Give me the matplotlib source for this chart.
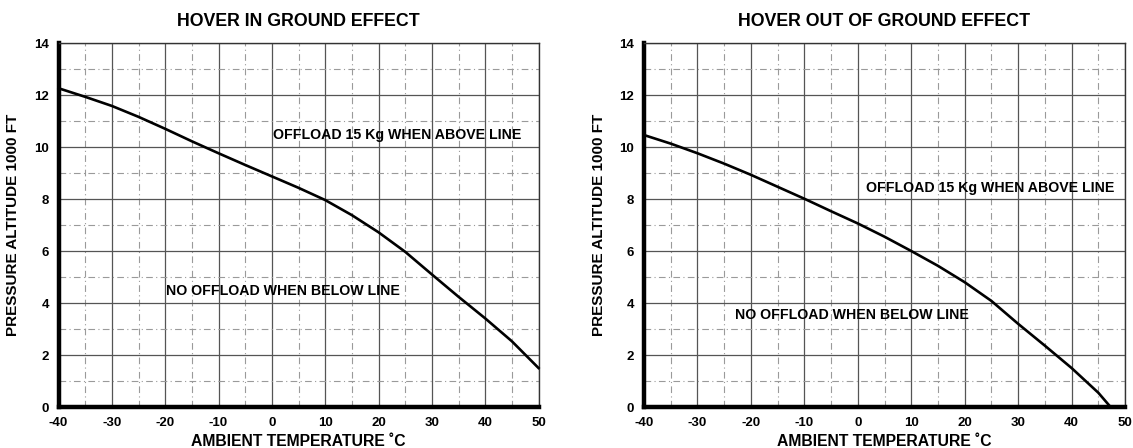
import numpy as np
import matplotlib
matplotlib.use('Agg')
import matplotlib.pyplot as plt

plt.rcParams['font.family'] = ['Liberation Sans', 'DejaVu Sans']
plt.rcParams['font.weight'] = 'bold'

# hover in ground effect (temp degC, altitude 1000 ft)
igeTemp = [-40, -35, -30, -25, -20, -15, -10, -5, 0, 5, 10, 15, 20, 25, 30, 35, 40, 45, 50]
igeAlt = [12.26, 11.93, 11.58, 11.16, 10.7, 10.22, 9.76, 9.31, 8.87, 8.43, 7.96, 7.38, 6.72, 5.97, 5.1, 4.24, 3.41, 2.53, 1.5]

# hover out of ground effect
ogeTemp = [-40, -35, -30, -25, -20, -15, -10, -5, 0, 5, 10, 15, 20, 25, 30, 35, 40, 45, 47.3]
ogeAlt = [10.46, 10.13, 9.76, 9.36, 8.93, 8.47, 8.01, 7.53, 7.06, 6.55, 6.0, 5.43, 4.8, 4.08, 3.2, 2.36, 1.5, 0.55, 0.0]

xTicks = [-40, -30, -20, -10, 0, 10, 20, 30, 40, 50]
yTicks = [0, 2, 4, 6, 8, 10, 12, 14]

titles = ['HOVER IN GROUND EFFECT', 'HOVER OUT OF GROUND EFFECT']
aboveText = 'OFFLOAD 15 Kg WHEN ABOVE LINE'
belowText = 'NO OFFLOAD WHEN BELOW LINE'
# left edge of the notes (temp, alt)
abovePos = [(0.2, 10.46), (1.6, 8.42)]
belowPos = [(-19.9, 4.48), (-23.0, 3.52)]

W, H = 1133, 448
fig = plt.figure(figsize=(W/100, H/100), dpi=100)
# axes boxes in pixels: left, bottom, width, height
boxes = [(58.5, 41, 480, 364), (644, 41, 481, 364)]
axes = [fig.add_axes([b[0]/W, b[1]/H, b[2]/W, b[3]/H]) for b in boxes]

def drawPanel(ax, box, temp, alt, title, aPos, bPos):
	ax.set_xlim(-40, 50)
	ax.set_ylim(0, 14)
	ax.set_xticks(xTicks)
	ax.set_yticks(yTicks)
	ax.set_xticks(np.arange(-35, 50, 10), minor=True)
	ax.set_yticks(np.arange(1, 14, 2), minor=True)
	ax.grid(which='major', color='#555555', lw=0.9)
	ax.grid(which='minor', color='#9a9a9a', lw=0.8, ls=(0, (6, 3, 1, 3)))
	ax.tick_params(which='both', length=0)
	ax.tick_params(axis='x', labelsize=9.5, pad=7)
	ax.tick_params(axis='y', labelsize=9.5, pad=7)
	ax.set_xticklabels([str(t) for t in xTicks], fontweight='bold')
	ax.set_yticklabels([str(t) for t in yTicks], fontweight='bold')
	ax.set_axisbelow(True)
	for s in ['left', 'bottom']:
		ax.spines[s].set_linewidth(3.2)
	for s in ['top', 'right']:
		ax.spines[s].set_linewidth(1)
		ax.spines[s].set_color('#333333')
	ax.plot(temp, alt, color='black', lw=1.9, clip_on=False, zorder=5)
	ax.text(aPos[0], aPos[1], aboveText, fontsize=10.2, fontweight='bold', va='center', ha='left', zorder=6)
	ax.text(bPos[0], bPos[1], belowText, fontsize=10.2, fontweight='bold', va='center', ha='left', zorder=6)

	cx = (box[0] + box[2]/2)/W
	fig.text(cx, 1 - 21/H, title, fontsize=12.8, fontweight='bold', ha='center', va='center')
	fig.text(cx, 1 - 441/H, 'AMBIENT TEMPERATURE \u02daC', fontsize=11.3, fontweight='bold', ha='center', va='center')
	fig.text((box[0] - 45)/W, (box[1] + box[3]/2)/H, 'PRESSURE ALTITUDE 1000 FT', fontsize=11,
		fontweight='bold', ha='center', va='center', rotation=90)

for i in range(0, 2):
	if i == 0:
		drawPanel(axes[i], boxes[i], igeTemp, igeAlt, titles[i], abovePos[i], belowPos[i])
	else:
		drawPanel(axes[i], boxes[i], ogeTemp, ogeAlt, titles[i], abovePos[i], belowPos[i])

plt.savefig('out.png', dpi=100)
